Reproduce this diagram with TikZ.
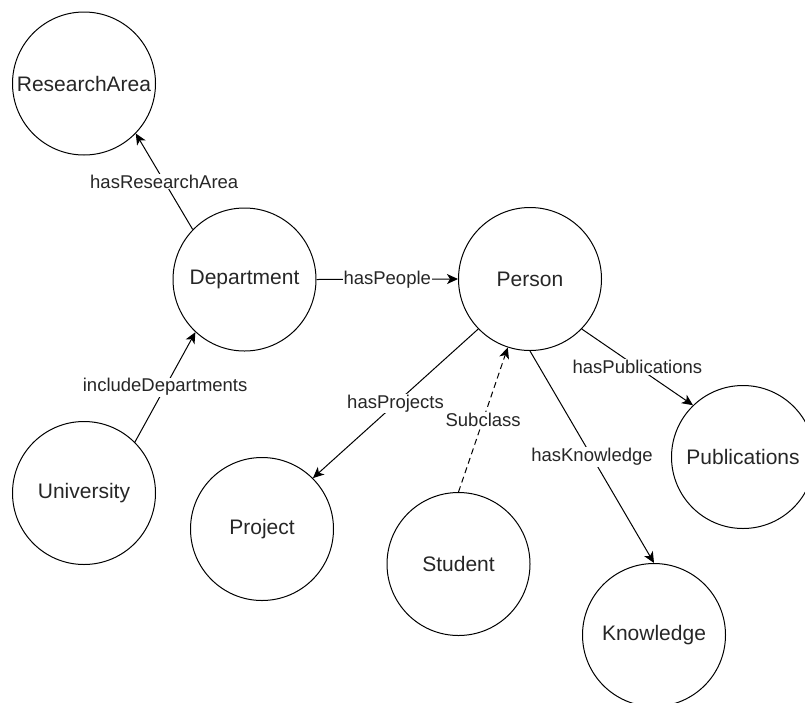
\documentclass[tikz,border=0pt]{standalone}
\usepackage{fontspec}
\setmainfont{Liberation Sans}
\usetikzlibrary{arrows.meta}
\definecolor{txt}{HTML}{262626}
\begin{document}
\begin{tikzpicture}[x=1pt,y=-1pt,
  cls/.style={draw, circle, line width=1pt, minimum size=143pt, inner sep=0pt, text=txt, font=\fontsize{21}{25}\selectfont},
  rel/.style={draw, line width=1pt, -{Stealth[length=11pt,width=10pt,inset=3pt]}},
  dsh/.style={rel, dash pattern=on 6pt off 4pt},
  lbl/.style={fill=white, inner sep=1pt, text=txt, font=\fontsize{18.5}{22}\selectfont}]
\useasboundingbox (0,0) rectangle (805,702);
\node[cls] (ra)  at (84,83.5)   {ResearchArea};
\node[cls] (dep) at (244.5,279.5) {Department};
\node[cls] (per) at (530,279)   {Person};
\node[cls] (uni) at (84,493)    {University};
\node[cls] (prj) at (262,529)   {Project};
\node[cls] (stu) at (458.5,564) {Student};
\node[cls] (pub) at (743,457)   {Publications};
\node[cls] (kno) at (654,635)   {Knowledge};
\path[rel] (dep.136) -- node[lbl] {hasResearchArea} (ra.-44);
\path[rel] (dep.east) -- node[lbl] {hasPeople} (per.west);
\path[rel] (uni.45) -- node[lbl] {includeDepartments} (dep.227);
\path[rel] (per.224.5) -- node[lbl] {hasProjects} (prj.45.5);
\path[dsh] (stu.north) -- node[lbl] {Subclass} (per.252.5);
\path[rel] (per.south) -- node[lbl] {hasKnowledge} (kno.north);
\path[rel] (per.-44.5) -- node[lbl] {hasPublications} (pub.134.5);
\end{tikzpicture}
\end{document}
